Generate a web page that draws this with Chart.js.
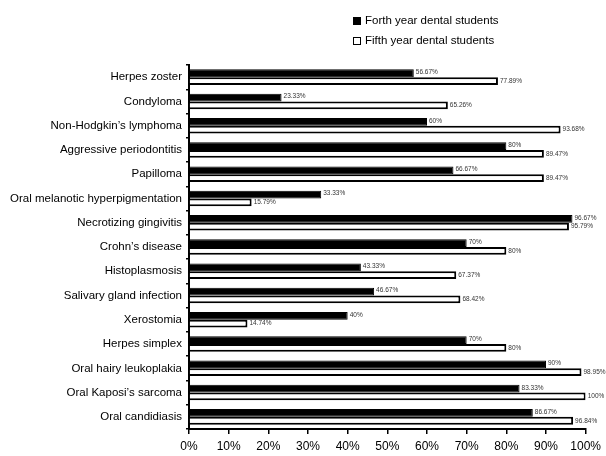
<!DOCTYPE html>
<html>
<head>
<meta charset="utf-8">
<script src="https://cdn.jsdelivr.net/npm/chart.js@4/dist/chart.umd.min.js"></script>
<style>
  html, body { margin: 0; padding: 0; background: #fff; }
  canvas { display: block; }
</style>
</head>
<body>
<canvas id="chart" width="606" height="456"></canvas>
<script>
// Conditions listed top to bottom
const conditions = [
  "Herpes zoster",
  "Condyloma",
  "Non-Hodgkin\u2019s lymphoma",
  "Aggressive periodontitis",
  "Papilloma",
  "Oral melanotic hyperpigmentation",
  "Necrotizing gingivitis",
  "Crohn\u2019s disease",
  "Histoplasmosis",
  "Salivary gland infection",
  "Xerostomia",
  "Herpes simplex",
  "Oral hairy leukoplakia",
  "Oral Kaposi\u2019s sarcoma",
  "Oral candidiasis"
];

// Percentage of students per year
const forthYear = [56.67, 23.33, 60, 80, 66.67, 33.33, 96.67, 70, 43.33, 46.67, 40, 70, 90, 83.33, 86.67];
const fifthYear = [77.89, 65.26, 93.68, 89.47, 89.47, 15.79, 95.79, 80, 67.37, 68.42, 14.74, 80, 98.95, 100, 96.84];

const seriesNames = ["Forth year dental students", "Fifth year dental students"];

const FONT = "'Liberation Sans', Arial, sans-serif";

// Value labels at the end of every bar
const valueLabels = {
  id: "valueLabels",
  afterDatasetsDraw(chart) {
    const ctx = chart.ctx;
    ctx.save();
    ctx.font = "6.5px " + FONT;
    ctx.fillStyle = "#333";
    ctx.textAlign = "left";
    ctx.textBaseline = "middle";
    chart.data.datasets.forEach((ds, di) => {
      const meta = chart.getDatasetMeta(di);
      meta.data.forEach((bar, i) => {
        const v = ds.data[i];
        ctx.fillText(v + "%", bar.x + 2, bar.y + (di === 0 ? -1 : 0));
      });
    });
    ctx.restore();
  }
};

// Two-row legend above the plot
const stackedLegend = {
  id: "stackedLegend",
  afterDraw(chart) {
    const ctx = chart.ctx;
    ctx.save();
    ctx.font = "11.5px " + FONT;
    ctx.textBaseline = "middle";
    ctx.textAlign = "left";
    const rows = [21, 41];
    chart.data.datasets.forEach((ds, i) => {
      const y = rows[i];
      ctx.fillStyle = ds.backgroundColor;
      ctx.fillRect(353, y - 4, 8, 8);
      ctx.strokeStyle = "#000";
      ctx.lineWidth = 1;
      ctx.strokeRect(353.5, y - 3.5, 7, 7);
      ctx.fillStyle = "#000";
      ctx.fillText(ds.label, 365, y);
    });
    ctx.restore();
  }
};

new Chart(document.getElementById("chart"), {
  type: "bar",
  data: {
    labels: conditions,
    datasets: [
      {
        label: seriesNames[0],
        data: forthYear,
        backgroundColor: "#000",
        borderColor: "#000",
        borderWidth: 1,
        categoryPercentage: 0.64,
        barPercentage: 1.0
      },
      {
        label: seriesNames[1],
        data: fifthYear,
        backgroundColor: "#fff",
        borderColor: "#000",
        borderWidth: 2,
        categoryPercentage: 0.64,
        barPercentage: 1.0
      }
    ]
  },
  options: {
    indexAxis: "y",
    responsive: false,
    animation: false,
    layout: { padding: { top: 65, right: 15, left: 0, bottom: 0 } },
    plugins: {
      legend: { display: false },
      tooltip: { enabled: false }
    },
    scales: {
      x: {
        min: 0,
        max: 100,
        afterFit(scale) { scale.height = 27; },
        ticks: {
          stepSize: 10,
          callback: v => v + "%",
          color: "#000",
          font: { family: FONT, size: 12 },
          padding: 5,
          maxRotation: 0
        },
        grid: { drawOnChartArea: false, drawTicks: true, tickLength: 5, color: "#000", lineWidth: 1.5 },
        border: { color: "#000", width: 2 }
      },
      y: {
        afterFit(scale) { scale.width = 189; },
        ticks: {
          color: "#000",
          font: { family: FONT, size: 11.5 },
          padding: 4,
          autoSkip: false
        },
        grid: { offset: true, drawOnChartArea: false, drawTicks: true, tickLength: 3, color: "#000", lineWidth: 1.5 },
        border: { color: "#000", width: 2 }
      }
    }
  },
  plugins: [valueLabels, stackedLegend]
});
</script>
</body>
</html>
